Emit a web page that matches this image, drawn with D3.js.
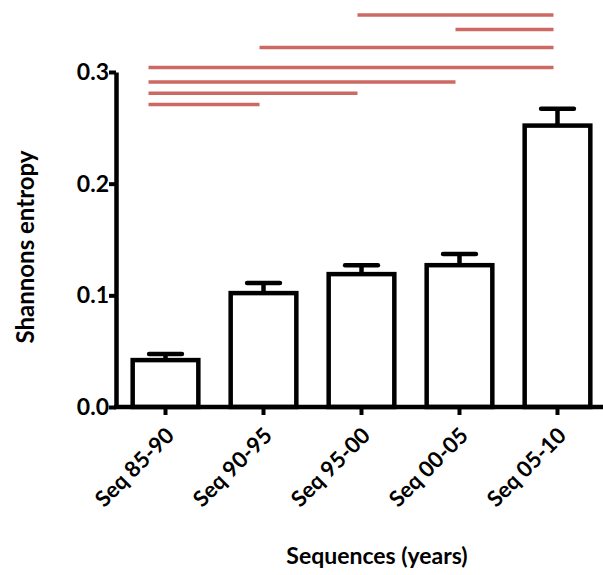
<!DOCTYPE html>
<html>
<head>
<meta charset="utf-8">
<script src="https://cdn.jsdelivr.net/npm/d3@7"></script>
<style>
  body { margin: 0; background: #fff; }
  text { font-family: Lato, "Open Sans", sans-serif; font-weight: bold; fill: #000; }
</style>
</head>
<body>
<div id="chart"></div>
<script>
// data
var categories = ["Seq 85-90", "Seq 90-95", "Seq 95-00", "Seq 00-05", "Seq 05-10"];
var means      = [0.042, 0.102, 0.119, 0.127, 0.252];
var upperErr   = [0.0055, 0.009, 0.008, 0.010, 0.015];
var yTicks     = [0.0, 0.1, 0.2, 0.3];

// significance comparisons: [from, to, height in y units]
var compFrom   = ["Seq 95-00", "Seq 00-05", "Seq 90-95", "Seq 85-90", "Seq 85-90", "Seq 85-90", "Seq 85-90"];
var compTo     = ["Seq 05-10", "Seq 05-10", "Seq 05-10", "Seq 05-10", "Seq 00-05", "Seq 95-00", "Seq 90-95"];
var compLevel  = [0.351, 0.338, 0.322, 0.304, 0.291, 0.281, 0.271];

var width = 603, height = 575;
var axisLeft = 116, axisBottom = 407;

var svg = d3.select("#chart").append("svg")
    .attr("width", width)
    .attr("height", height);

var x = d3.scaleBand()
    .domain(categories)
    .range([axisLeft + 1, width + 3])
    .paddingInner(0.33)
    .paddingOuter(0.16);

var y = d3.scaleLinear()
    .domain([0, 0.3])
    .range([axisBottom, 72]);

var data = categories.map(function(c, i) {
  return {cat: c, mean: means[i], err: upperErr[i]};
});

// bars
svg.selectAll(".bar")
    .data(data)
    .enter().append("rect")
    .attr("class", "bar")
    .attr("x", function(d) { return x(d.cat); })
    .attr("width", x.bandwidth())
    .attr("y", function(d) { return y(d.mean); })
    .attr("height", function(d) { return axisBottom - y(d.mean); })
    .style("fill", "#fff")
    .style("stroke", "#000")
    .style("stroke-width", 4.5);

// error bars (upper only)
var eb = svg.selectAll(".err")
    .data(data)
    .enter().append("g")
    .attr("class", "err")
    .attr("transform", function(d) { return "translate(" + (x(d.cat) + x.bandwidth() / 2) + ",0)"; });

eb.append("line")
    .attr("y1", function(d) { return y(d.mean); })
    .attr("y2", function(d) { return y(d.mean + d.err); })
    .style("stroke", "#000")
    .style("stroke-width", 4.5);

eb.append("line")
    .attr("x1", -x.bandwidth() / 4)
    .attr("x2", x.bandwidth() / 4)
    .attr("y1", function(d) { return y(d.mean + d.err); })
    .attr("y2", function(d) { return y(d.mean + d.err); })
    .style("stroke", "#000")
    .style("stroke-width", 4.5)
    .style("stroke-linecap", "round");

// y axis
var yAxis = svg.append("g")
    .attr("transform", "translate(" + axisLeft + ",0)")
    .call(d3.axisLeft(y).tickValues(yTicks).tickFormat(d3.format(".1f")).tickSize(7).tickSizeOuter(0));
yAxis.select(".domain").style("stroke", "#000").style("stroke-width", 4.5);
yAxis.selectAll(".tick line").style("stroke", "#000").style("stroke-width", 4);
yAxis.selectAll(".tick text")
    .attr("x", -7)
    .style("font-size", "23px")
    .style("font-family", "Lato, sans-serif")
    .style("font-weight", "bold");

// x axis
var xAxis = svg.append("g")
    .attr("transform", "translate(0," + axisBottom + ")")
    .call(d3.axisBottom(x).tickSize(8).tickSizeOuter(0));
xAxis.select(".domain")
    .attr("d", "M" + (axisLeft - 2) + ",0H" + width)
    .style("stroke", "#000").style("stroke-width", 4.5);
xAxis.selectAll(".tick line").style("stroke", "#000").style("stroke-width", 4);
xAxis.selectAll(".tick text")
    .attr("y", 0).attr("dy", 0)
    .attr("transform", "translate(10,30) rotate(-45)")
    .style("text-anchor", "end")
    .style("font-size", "22px")
    .style("font-family", "Lato, sans-serif")
    .style("font-weight", "bold");

// significance lines
svg.selectAll(".sig")
    .data(compFrom.map(function(f, i) { return {from: f, to: compTo[i], level: compLevel[i]}; }))
    .enter().append("line")
    .attr("class", "sig")
    .attr("x1", function(d) { return x(d.from) + x.bandwidth() / 2 - (d.from === categories[0] ? 17 : 4); })
    .attr("x2", function(d) { return x(d.to) + x.bandwidth() / 2 - 4; })
    .attr("y1", function(d) { return y(d.level); })
    .attr("y2", function(d) { return y(d.level); })
    .style("stroke", "#cd6963")
    .style("stroke-width", 3.5);

// axis titles
svg.append("text")
    .attr("transform", "translate(34,247) rotate(-90)")
    .attr("text-anchor", "middle")
    .style("font-size", "24px")
    .text("Shannons entropy");

svg.append("text")
    .attr("x", 377)
    .attr("y", 564)
    .attr("text-anchor", "middle")
    .style("font-size", "23px")
    .text("Sequences (years)");
</script>
</body>
</html>
